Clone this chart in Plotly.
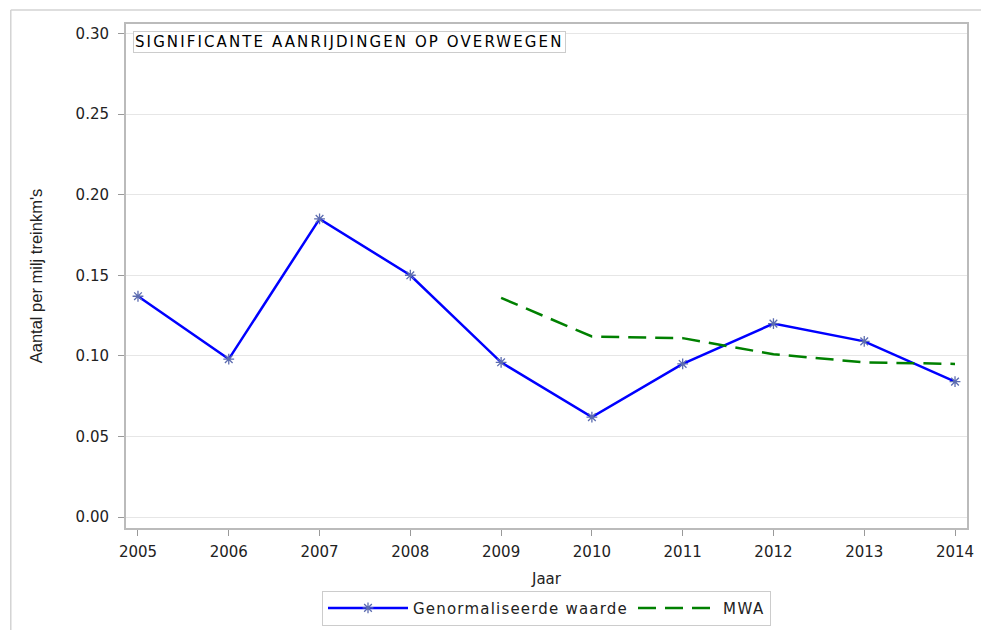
import plotly.graph_objects as go

jaren = [2005, 2006, 2007, 2008, 2009, 2010, 2011, 2012, 2013, 2014]
genormaliseerd = [0.137, 0.098, 0.185, 0.150, 0.096, 0.062, 0.095, 0.120, 0.109, 0.084]
mwa_jaren = [2009, 2010, 2011, 2012, 2013, 2014]
mwa = [0.136, 0.112, 0.111, 0.101, 0.096, 0.095]
y_ticks = [0.00, 0.05, 0.10, 0.15, 0.20, 0.25, 0.30]

FONT = "DejaVu Sans, Liberation Sans, Arial, sans-serif"


def spaced(txt, px):
    return f"<span style='letter-spacing:{px}px'>{txt}</span>"


fig = go.Figure()
fig.add_trace(go.Scatter(
    x=jaren, y=genormaliseerd, name=spaced("Genormaliseerde waarde", 1.2),
    mode="lines+markers",
    line=dict(color="#0000ff", width=2.5),
    marker=dict(symbol="asterisk-open", size=9, color="#5c6cb0",
                line=dict(color="#5c6cb0", width=1.3)),
))
fig.add_trace(go.Scatter(
    x=mwa_jaren, y=mwa, name=spaced("MWA", 1.5), mode="lines",
    line=dict(color="#008000", width=2.5, dash="18px,9px"),
))

fig.add_annotation(
    text=spaced("SIGNIFICANTE AANRIJDINGEN OP OVERWEGEN", 2.1),
    xref="paper", yref="paper", x=0.008, y=0.986, xanchor="left", yanchor="top",
    showarrow=False, font=dict(family=FONT, size=15, color="#000"),
    bordercolor="#cccccc", borderwidth=1, borderpad=1, bgcolor="white",
)

# outer frame (partial, as in the source image)
fig.add_shape(type="line", xref="paper", yref="paper",
              x0=-0.137, x1=1.05, y0=1.028, y1=1.028,
              line=dict(color="#d3d3d3", width=1.5))
fig.add_shape(type="line", xref="paper", yref="paper",
              x0=-0.137, x1=-0.137, y0=1.028, y1=-0.25,
              line=dict(color="#d3d3d3", width=1.5))

fig.update_layout(
    width=981, height=622,
    margin=dict(l=118, r=22, t=16, b=102, autoexpand=False),
    plot_bgcolor="white", paper_bgcolor="white",
    font=dict(family=FONT, size=15, color="#222"),
    showlegend=True,
    legend=dict(orientation="h", x=0.5, xanchor="center", y=-0.159, yanchor="middle",
                bordercolor="#cccccc", borderwidth=1, font=dict(size=15),
                itemwidth=80, tracegroupgap=0),
    xaxis=dict(
        title=dict(text="Jaar", standoff=13, font=dict(size=15)),
        range=[2004.868, 2014.132], tickvals=jaren, ticks="outside", ticklen=6,
        tickcolor="#999", showgrid=False, zeroline=False, ticklabelstandoff=3,
        showline=True, linecolor="#bbbbbb", linewidth=2, mirror=True,
        automargin=False,
    ),
    yaxis=dict(
        title=dict(text="Aantal per milj treinkm's", standoff=29,
                   font=dict(size=16.5, family="Liberation Sans, Arial, sans-serif")),
        range=[-0.0068, 0.3059], tickvals=y_ticks, tickformat=".2f",
        ticks="outside", ticklen=6, tickcolor="#999", ticklabelstandoff=6,
        showgrid=True, gridcolor="#e6e6e6", zeroline=False,
        showline=True, linecolor="#bbbbbb", linewidth=2, mirror=True,
        automargin=False,
    ),
)

fig.write_html("out.html")
